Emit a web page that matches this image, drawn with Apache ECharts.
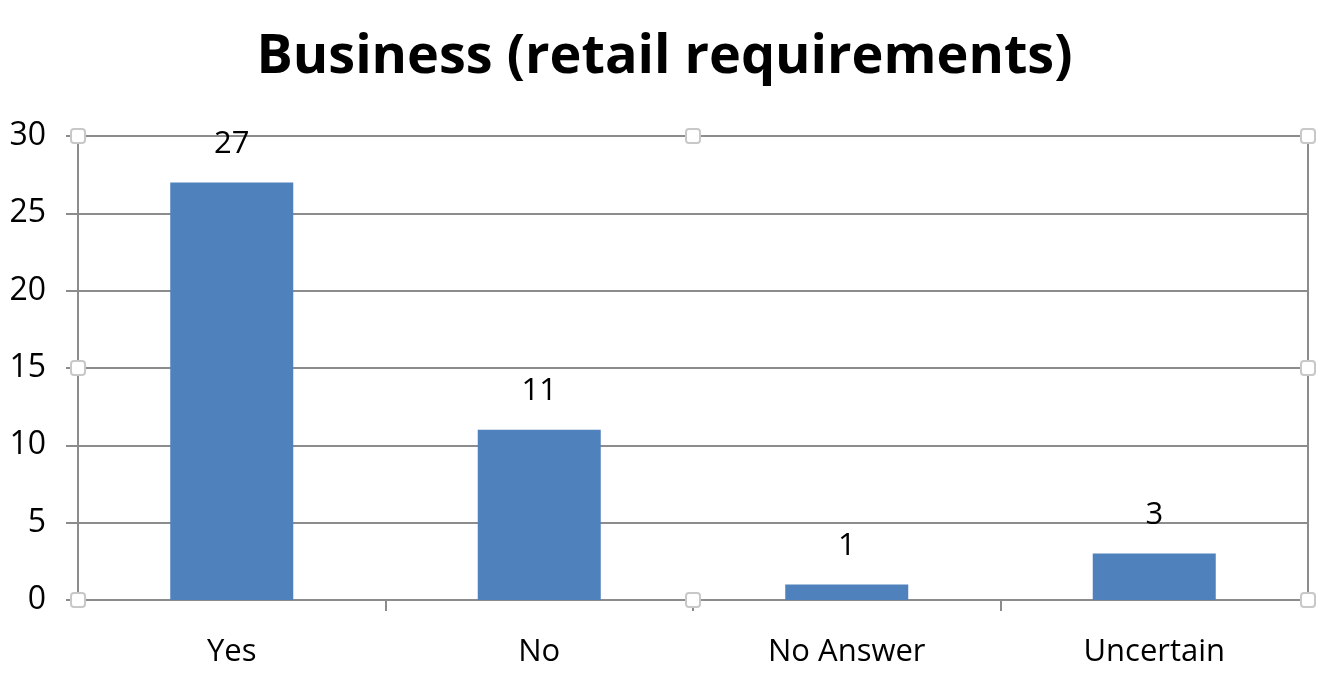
<!DOCTYPE html>
<html><head><meta charset="utf-8">
<script src="https://cdn.jsdelivr.net/npm/echarts@6/dist/echarts.min.js"></script>
<style>html,body{margin:0;padding:0;background:#fff}#c{width:1329px;height:679px}</style>
</head><body><div id="c"></div>
<script>
const categories = ["Yes", "No", "No Answer", "Uncertain"];
const values = [27, 11, 1, 3];
const titleText = "Business (retail requirements)";

const FONT = '"Open Sans", Lato, sans-serif';
const chart = echarts.init(document.getElementById('c'));
const gridL = 78, gridR = 21, gridT = 136, gridB = 79;
chart.setOption({
  animation: false,
  title: { text: titleText, left: 'center', top: 26,
    textStyle: { fontFamily: FONT, fontSize: 54, fontWeight: 'bold', color: '#000' } },
  grid: { left: gridL, right: gridR, top: gridT, bottom: gridB, show: true, borderColor: '#8c8c8c', borderWidth: 2 },
  xAxis: { type: 'category', data: categories,
    axisLine: { lineStyle: { color: '#8c8c8c', width: 2 } },
    axisTick: { show: true, length: 11, interval: function (i) { return i > 0; }, lineStyle: { color: '#8c8c8c', width: 2 } },
    axisLabel: { color: '#000', fontSize: 31, fontFamily: FONT, margin: 37 } },
  yAxis: { type: 'value', min: 0, max: 30, interval: 5,
    axisLine: { show: true, lineStyle: { color: '#8c8c8c', width: 2 } },
    axisTick: { show: true, length: 12, lineStyle: { color: '#8c8c8c', width: 2 } },
    splitLine: { lineStyle: { color: '#8c8c8c', width: 2 } },
    axisLabel: { color: '#000', fontSize: 32, fontFamily: FONT, margin: 32 } },
  series: [{ type: 'bar', data: values, barWidth: '40%',
    itemStyle: { color: '#4F81BD' },
    label: { show: true, position: 'top', distance: 23, color: '#000', fontSize: 31, fontFamily: FONT } }]
});

// selection handles around plot area
const W = 1329, H = 679;
const x0 = gridL, x1 = W - gridR, y0 = gridT, y1 = H - gridB;
const xm = (x0 + x1) / 2, ym = (y0 + y1) / 2;
const pts = [[x0,y0],[xm,y0],[x1,y0],[x0,ym],[x1,ym],[x0,y1],[xm,y1],[x1,y1]];
const handles = pts.map(p => ({ type: 'rect', shape: { x: p[0]-7, y: p[1]-7, width: 14, height: 14, r: 3 },
  style: { fill: '#fff', stroke: '#c8c8c8', lineWidth: 2 }, z: 100 }));
// hide the trailing boundary tick at the right end (not shown in the reference)
handles.push({ type: 'rect', shape: { x: x1 - 3, y: y1 + 8, width: 6, height: 8 }, style: { fill: '#fff' }, z: 99 });
chart.setOption({ graphic: handles });
</script></body></html>
